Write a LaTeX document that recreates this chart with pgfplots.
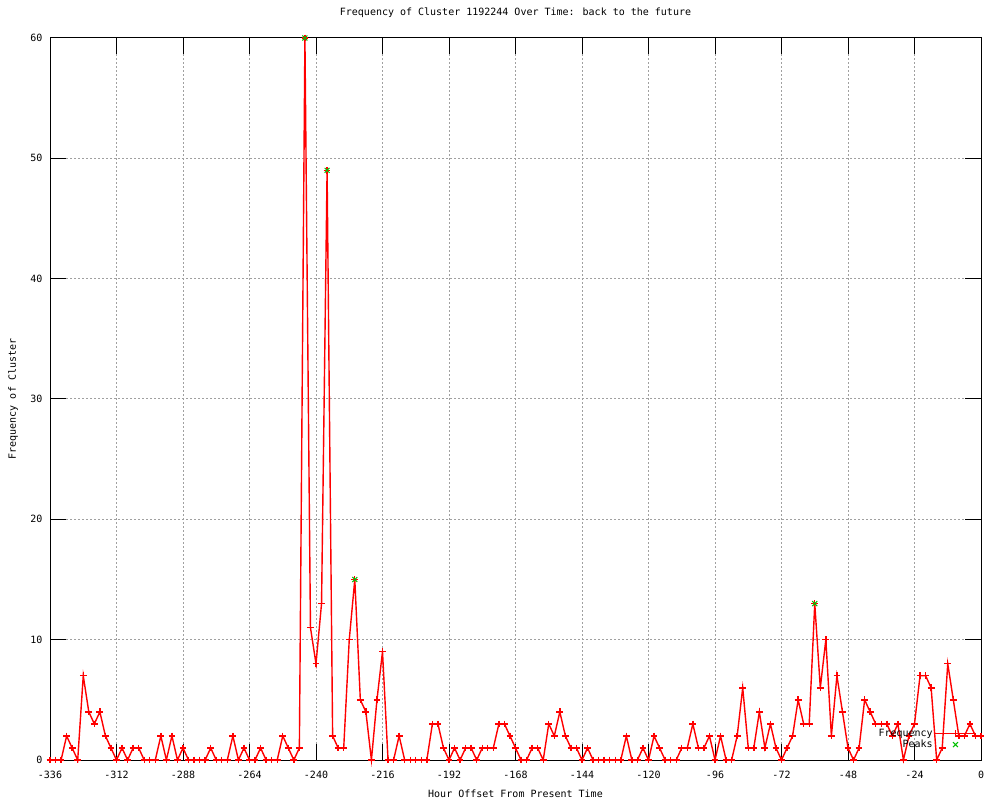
\documentclass[border=0pt]{standalone}
\usepackage{fontspec}
\setmainfont{DejaVu Sans Mono}
\usepackage{pgfplots}
\pgfplotsset{compat=1.18}
\usepackage{pgfplotstable}
\definecolor{gridgray}{RGB}{160,160,160}
\definecolor{peakgreen}{RGB}{0,192,0}
\definecolor{freqred}{RGB}{255,0,0}
\pgfplotstableread{
h v
-336 0
-334 0
-332 0
-330 2
-328 1
-326 0
-324 7
-322 4
-320 3
-318 4
-316 2
-314 1
-312 0
-310 1
-308 0
-306 1
-304 1
-302 0
-300 0
-298 0
-296 2
-294 0
-292 2
-290 0
-288 1
-286 0
-284 0
-282 0
-280 0
-278 1
-276 0
-274 0
-272 0
-270 2
-268 0
-266 1
-264 0
-262 0
-260 1
-258 0
-256 0
-254 0
-252 2
-250 1
-248 0
-246 1
-244 60
-242 11
-240 8
-238 13
-236 49
-234 2
-232 1
-230 1
-228 10
-226 15
-224 5
-222 4
-220 0
-218 5
-216 9
-214 0
-212 0
-210 2
-208 0
-206 0
-204 0
-202 0
-200 0
-198 3
-196 3
-194 1
-192 0
-190 1
-188 0
-186 1
-184 1
-182 0
-180 1
-178 1
-176 1
-174 3
-172 3
-170 2
-168 1
-166 0
-164 0
-162 1
-160 1
-158 0
-156 3
-154 2
-152 4
-150 2
-148 1
-146 1
-144 0
-142 1
-140 0
-138 0
-136 0
-134 0
-132 0
-130 0
-128 2
-126 0
-124 0
-122 1
-120 0
-118 2
-116 1
-114 0
-112 0
-110 0
-108 1
-106 1
-104 3
-102 1
-100 1
-98 2
-96 0
-94 2
-92 0
-90 0
-88 2
-86 6
-84 1
-82 1
-80 4
-78 1
-76 3
-74 1
-72 0
-70 1
-68 2
-66 5
-64 3
-62 3
-60 13
-58 6
-56 10
-54 2
-52 7
-50 4
-48 1
-46 0
-44 1
-42 5
-40 4
-38 3
-36 3
-34 3
-32 2
-30 3
-28 0
-26 2
-24 3
-22 7
-20 7
-18 6
-16 0
-14 1
-12 8
-10 5
-8 2
-6 2
-4 3
-2 2
0 2
}\freqdata
\pgfplotstableread{
h v
-244 60
-236 49
-226 15
-60 13
}\peakdata
\begin{document}
\begin{tikzpicture}
\useasboundingbox (0pt,0pt) rectangle (1000pt,800pt);
\begin{axis}[
  at={(50pt,40pt)}, anchor=south west,
  scale only axis, width=931pt, height=722pt,
  xmin=-336, xmax=0, ymin=0, ymax=60,
  xtick={-336,-312,-288,-264,-240,-216,-192,-168,-144,-120,-96,-72,-48,-24,0},
  xticklabels={-336,-312,-288,-264,-240,-216,-192,-168,-144,-120,-96,-72,-48,-24,0},
  ytick={0,10,20,30,40,50,60},
  yticklabels={0,10,20,30,40,50,60},
  xtick pos=both, ytick pos=both,
  tick align=inside,
  major tick length=16pt,
  minor tick num=0,
  major tick style={black, line width=1pt},
  axis line style={black, line width=1pt},
  grid=major,
  major grid style={gridgray, line width=1pt, dash pattern=on 2pt off 2pt},
  clip=false,
  xticklabel style={anchor=base, yshift=-18pt},
  yticklabel style={anchor=east, xshift=-4pt},
  title={Frequency of Cluster 1192244 Over Time: back to the future},
  title style={at={(0.5,1)}, anchor=base, yshift=16pt},
  xlabel={Hour Offset From Present Time},
  xlabel style={at={(0.5,0)}, anchor=base, yshift=-37pt},
  ylabel={Frequency of Cluster},
  ylabel style={at={(0,0.5)}, anchor=center, yshift=37pt},
  legend style={draw=none, fill=none, at={(0.995,0.012)}, anchor=south east,
    inner sep=0pt, row sep=-2pt},
  legend cell align=right,
  legend plot pos=right,
  legend image code/.code={
    \draw[mark repeat=2, mark phase=2, #1] plot coordinates {(0pt,0pt) (20pt,0pt) (40pt,0pt)};
  },
]
\addplot[color=freqred, line width=1.4pt, mark=+, mark size=3.4pt,
  mark options={solid, freqred, line width=1.4pt},
  legend image code/.code={
    \draw[freqred, line width=1.4pt] (0pt,0pt) -- (40pt,0pt);
    \draw[freqred, line width=1.4pt] (16.6pt,0pt) -- (23.4pt,0pt) (20pt,-3.4pt) -- (20pt,3.4pt);
  }] table[x=h, y=v] {\freqdata};
\addlegendentry{Frequency}
\addplot[only marks, color=peakgreen, mark=x, mark size=3.5pt,
  mark options={peakgreen, line width=1pt}] table[x=h, y=v] {\peakdata};
\addlegendentry{Peaks}
\end{axis}
\end{tikzpicture}
\end{document}
